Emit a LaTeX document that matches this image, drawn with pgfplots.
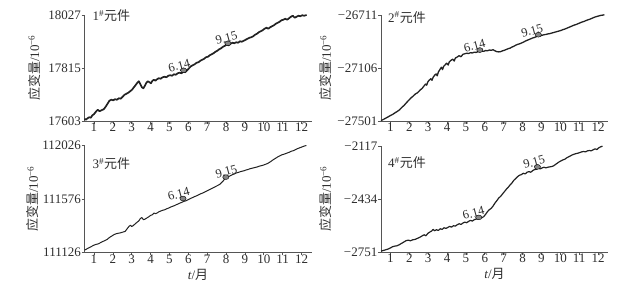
\documentclass[border=0pt]{standalone}
\usepackage{fontspec}
\setmainfont{Liberation Serif}
\newfontfamily\cjk{Noto Sans CJK SC}
\usepackage{pgfplots}
\pgfplotsset{compat=1.18}
\definecolor{txt}{HTML}{2E2E2E}
\definecolor{ln}{HTML}{222222}
\definecolor{mk}{HTML}{858585}
\definecolor{ax}{HTML}{555555}
\pgfplotsset{
  panel/.style={
    scale only axis, width=227pt, height=106pt,
    anchor=south west,
    axis x line=bottom, axis y line=left,
    axis line style={-, draw=ax, line width=0.6pt},
    xmin=0.5, xmax=12.53,
    scaled y ticks=false,
    xtick=\empty,
    minor xtick={1.5,2.5,...,11.5},
    minor tick length=2.5pt,
    major tick length=3pt,
    tick align=outside,
    minor tick style={draw=ax, line width=0.5pt, yshift=2.5pt},
    major tick style={draw=ax, line width=0.6pt},
    extra x ticks={1,2,3,4,5,6,7,8,9,10,11,12},
    extra x tick labels={1,2,3,4,5,6,7,8,9,10,11,12},
    extra x tick style={tick style={draw=none}},
    tick label style={font=\fontsize{13}{15}\selectfont, text=txt},
    xticklabel style={inner sep=0pt, yshift=1pt},
    yticklabel style={inner sep=0.5pt},
    label style={font=\fontsize{13}{15}\selectfont, text=txt},
    ylabel={{\cjk 应变量}/10\textsuperscript{−6}},
    clip=false,
  },
  mlab/.style={only marks, mark=*, mark size=2.4pt,
    mark options={fill=mk, draw=none, xscale=1.3},
    every node near coord/.append style={anchor=south, rotate=15,
      font=\fontsize{12.5}{14}\selectfont, text=txt, inner sep=1pt}},
}
\newcommand{\ttl}[1]{\fontsize{13}{15}\selectfont\color{txt}#1\textsuperscript{\#}{\cjk 元件}}
\begin{document}
\begin{tikzpicture}
\useasboundingbox (0,0) rectangle (628pt,291pt);
% ---------- panel 1
\begin{axis}[panel, at={(84.5pt,170pt)},
  ymin=17603, ymax=18027, ytick={17603,17815,18027},
  yticklabels={17603,17815,18027},
  ylabel style={at={(rel axis cs:-0.222,0.5)}, anchor=center}]
\addplot[ln, line width=1.7pt, line join=round] coordinates {
(0.50,17612)(0.58,17608)(0.66,17614)(0.75,17618)(0.83,17616)(0.92,17626)(1.00,17630)(1.10,17640)(1.20,17648)(1.30,17642)(1.40,17646)(1.52,17650)
(1.62,17660)(1.72,17672)(1.82,17684)(1.92,17688)(2.02,17686)(2.12,17690)(2.22,17688)(2.32,17694)(2.42,17692)(2.52,17700)
(2.62,17708)(2.72,17712)(2.82,17716)(2.92,17722)(3.02,17728)(3.12,17738)(3.22,17748)(3.30,17756)(3.38,17762)(3.46,17750)
(3.54,17738)(3.62,17734)(3.70,17744)(3.78,17756)(3.86,17762)(3.94,17758)(4.02,17754)(4.10,17764)(4.18,17768)(4.26,17764)
(4.34,17770)(4.44,17774)(4.54,17772)(4.64,17778)(4.74,17780)(4.84,17778)(4.94,17784)(5.04,17786)(5.14,17784)(5.24,17790)
(5.34,17788)(5.44,17794)(5.54,17796)(5.64,17794)(5.74,17800)(5.84,17798)(5.94,17806)(6.04,17814)(6.14,17822)(6.24,17826)
(6.34,17830)(6.44,17836)(6.54,17838)(6.64,17844)(6.74,17848)(6.84,17852)(6.94,17858)(7.04,17860)(7.14,17866)(7.24,17870)
(7.34,17874)(7.44,17880)(7.54,17884)(7.64,17890)(7.74,17894)(7.84,17900)(7.94,17904)(8.04,17908)(8.14,17906)(8.24,17912)
(8.34,17916)(8.44,17914)(8.54,17918)(8.64,17916)(8.74,17922)(8.84,17920)(8.94,17924)(9.04,17928)(9.14,17932)(9.24,17936)
(9.34,17938)(9.44,17942)(9.54,17948)(9.64,17952)(9.74,17958)(9.84,17962)(9.94,17966)(10.04,17972)(10.14,17976)(10.24,17972)
(10.34,17978)(10.44,17982)(10.54,17986)(10.64,17992)(10.74,17996)(10.84,18000)(10.94,18006)(11.04,18008)(11.14,18012)(11.24,18008)
(11.34,18014)(11.44,18020)(11.54,18024)(11.64,18016)(11.74,18020)(11.84,18024)(11.94,18022)(12.04,18026)(12.14,18024)(12.27,18027)
};
\addplot[mlab, nodes near coords={6.14}, every node near coord/.append style={xshift=-3pt}] coordinates {(5.75,17806)};
\addplot[mlab, nodes near coords={9.15}, every node near coord/.append style={xshift=0pt}] coordinates {(8.10,17914)};
\node[anchor=west, inner sep=0pt] at (rel axis cs:0.035,0.99) {\ttl{1}};
\end{axis}
% ---------- panel 2
\begin{axis}[panel, at={(381pt,170pt)},
  ymin=-27501, ymax=-26711, ytick={-27501,-27106,-26711},
  yticklabels={−27501,−27106,−26711},
  ylabel style={at={(rel axis cs:-0.243,0.5)}, anchor=center}]
\addplot[ln, line width=1.3pt, line join=round] coordinates {
(0.50,-27498)(0.62,-27490)(0.75,-27480)(0.88,-27470)(1.00,-27460)(1.12,-27452)(1.24,-27440)(1.36,-27430)(1.48,-27418)(1.60,-27400)
(1.72,-27385)(1.84,-27366)(1.96,-27348)(2.08,-27330)(2.20,-27316)(2.32,-27300)(2.44,-27290)(2.56,-27272)(2.68,-27258)(2.78,-27240)
(2.86,-27226)(2.92,-27234)(2.98,-27210)(3.06,-27196)(3.14,-27186)(3.20,-27198)(3.26,-27176)(3.34,-27160)(3.42,-27150)(3.48,-27164)
(3.54,-27136)(3.62,-27118)(3.70,-27100)(3.76,-27118)(3.82,-27094)(3.90,-27082)(3.98,-27070)(4.06,-27084)(4.12,-27060)(4.20,-27050)
(4.30,-27040)(4.38,-27054)(4.44,-27032)(4.54,-27024)(4.64,-27014)(4.74,-27022)(4.84,-27004)(4.94,-27000)(5.04,-26996)(5.14,-26998)
(5.24,-26992)(5.34,-26994)(5.44,-26988)(5.54,-26990)(5.64,-26984)(5.74,-26986)(5.84,-26980)(5.94,-26982)(6.04,-26976)(6.14,-26978)
(6.24,-26972)(6.34,-26974)(6.44,-26970)(6.54,-26978)(6.64,-26984)(6.74,-26986)(6.84,-26984)(6.94,-26978)(7.04,-26974)(7.14,-26968)
(7.24,-26962)(7.34,-26958)(7.44,-26950)(7.54,-26944)(7.64,-26936)(7.74,-26930)(7.84,-26926)(7.94,-26920)(8.04,-26914)(8.14,-26906)
(8.24,-26900)(8.34,-26894)(8.44,-26888)(8.54,-26882)(8.64,-26878)(8.74,-26872)(8.84,-26868)(8.94,-26866)(9.04,-26862)(9.14,-26858)
(9.24,-26856)(9.34,-26852)(9.44,-26850)(9.54,-26846)(9.64,-26842)(9.74,-26838)(9.84,-26834)(9.94,-26830)(10.04,-26826)(10.14,-26820)
(10.24,-26816)(10.34,-26810)(10.44,-26804)(10.54,-26798)(10.64,-26792)(10.74,-26786)(10.84,-26782)(10.94,-26776)(11.04,-26770)(11.14,-26764)
(11.24,-26760)(11.34,-26754)(11.44,-26748)(11.54,-26744)(11.64,-26738)(11.74,-26732)(11.84,-26726)(11.94,-26722)(12.04,-26718)(12.14,-26714)
(12.24,-26712)(12.34,-26709)
};
\addplot[mlab, nodes near coords={6.14}, every node near coord/.append style={xshift=-4pt}] coordinates {(5.74,-26972)};
\addplot[mlab, nodes near coords={9.15}, every node near coord/.append style={xshift=-5pt}] coordinates {(8.84,-26858)};
\node[anchor=west, inner sep=0pt] at (rel axis cs:0.031,0.98) {\ttl{2}};
\end{axis}
% ---------- panel 3
\begin{axis}[panel, at={(84.5pt,38.5pt)}, height=107pt,
  ymin=111126, ymax=112026, ytick={111126,111576,112026},
  yticklabels={111126,111576,112026},
  ylabel style={at={(rel axis cs:-0.227,0.5)}, anchor=center},
  xlabel={\textit{t}/{\cjk 月}},
  xlabel style={at={(rel axis cs:0.5,-0.205)}, anchor=center}]
\addplot[ln, line width=1.0pt, line join=round] coordinates {
(0.50,111146)(0.62,111156)(0.74,111166)(0.86,111176)(0.98,111186)(1.10,111194)(1.22,111198)(1.34,111208)(1.46,111218)(1.58,111226)
(1.70,111236)(1.82,111252)(1.94,111264)(2.06,111276)(2.18,111284)(2.30,111288)(2.42,111292)(2.54,111298)(2.66,111304)(2.76,111326)
(2.86,111346)(2.94,111356)(3.00,111344)(3.08,111352)(3.18,111366)(3.28,111380)(3.38,111392)(3.46,111412)(3.54,111420)(3.62,111402)
(3.70,111406)(3.80,111416)(3.90,111426)(4.00,111438)(4.10,111444)(4.18,111458)(4.26,111452)(4.36,111460)(4.46,111470)(4.56,111476)
(4.66,111482)(4.76,111486)(4.86,111494)(4.96,111500)(5.06,111508)(5.16,111514)(5.26,111520)(5.36,111528)(5.46,111534)(5.56,111542)
(5.66,111548)(5.76,111556)(5.86,111560)(5.96,111568)(6.06,111576)(6.16,111584)(6.26,111590)(6.36,111598)(6.46,111604)(6.56,111612)
(6.66,111620)(6.76,111626)(6.86,111634)(6.96,111642)(7.06,111650)(7.16,111658)(7.26,111666)(7.36,111674)(7.46,111682)(7.56,111690)
(7.66,111698)(7.76,111714)(7.86,111730)(7.96,111750)(8.06,111760)(8.16,111766)(8.26,111774)(8.36,111782)(8.46,111788)(8.56,111796)
(8.66,111800)(8.76,111806)(8.86,111810)(8.96,111814)(9.06,111820)(9.16,111824)(9.26,111830)(9.36,111834)(9.46,111838)(9.56,111842)
(9.66,111846)(9.76,111852)(9.86,111856)(9.96,111860)(10.06,111866)(10.16,111872)(10.26,111880)(10.36,111890)(10.46,111902)(10.56,111912)
(10.66,111922)(10.76,111932)(10.86,111940)(10.96,111948)(11.06,111952)(11.16,111958)(11.26,111964)(11.36,111970)(11.46,111978)(11.56,111982)
(11.66,111990)(11.76,111998)(11.86,112004)(11.96,112010)(12.06,112016)(12.16,112022)(12.26,112026)
};
\addplot[mlab, nodes near coords={6.14}, every node near coord/.append style={xshift=-3pt}] coordinates {(5.72,111580)};
\addplot[mlab, nodes near coords={9.15}, every node near coord/.append style={xshift=2pt}] coordinates {(7.99,111760)};
\node[anchor=west, inner sep=0pt] at (rel axis cs:0.035,0.83) {\ttl{3}};
\end{axis}
% ---------- panel 4
\begin{axis}[panel, at={(381pt,39pt)},
  ymin=-2751, ymax=-2117, ytick={-2751,-2434,-2117},
  yticklabels={−2751,−2434,−2117},
  ylabel style={at={(rel axis cs:-0.243,0.5)}, anchor=center},
  xlabel={\textit{t}/{\cjk 月}},
  xlabel style={at={(rel axis cs:0.5,-0.21)}, anchor=center}]
\addplot[ln, line width=1.2pt, line join=round] coordinates {
(0.50,-2746)(0.62,-2742)(0.74,-2738)(0.86,-2734)(0.98,-2728)(1.10,-2720)(1.22,-2716)(1.34,-2714)(1.46,-2708)(1.58,-2700)
(1.70,-2692)(1.82,-2684)(1.94,-2680)(2.06,-2684)(2.18,-2678)(2.30,-2676)(2.42,-2670)(2.54,-2664)(2.66,-2656)(2.78,-2648)
(2.88,-2654)(2.98,-2640)(3.08,-2632)(3.18,-2626)(3.26,-2616)(3.34,-2624)(3.44,-2618)(3.54,-2622)(3.64,-2612)(3.74,-2616)
(3.84,-2606)(3.94,-2610)(4.04,-2604)(4.14,-2598)(4.24,-2602)(4.34,-2594)(4.44,-2596)(4.54,-2588)(4.64,-2582)(4.74,-2586)
(4.84,-2578)(4.94,-2572)(5.04,-2576)(5.14,-2568)(5.24,-2562)(5.34,-2566)(5.44,-2558)(5.54,-2554)(5.64,-2552)(5.74,-2548)
(5.84,-2546)(5.94,-2540)(6.04,-2526)(6.14,-2510)(6.24,-2498)(6.34,-2490)(6.44,-2476)(6.54,-2458)(6.64,-2444)(6.74,-2428)
(6.84,-2418)(6.94,-2404)(7.04,-2390)(7.14,-2376)(7.24,-2364)(7.34,-2350)(7.44,-2338)(7.54,-2322)(7.64,-2312)(7.74,-2300)
(7.84,-2292)(7.94,-2288)(8.04,-2280)(8.14,-2284)(8.24,-2274)(8.34,-2270)(8.44,-2274)(8.54,-2264)(8.64,-2258)(8.74,-2256)
(8.84,-2250)(8.94,-2254)(9.04,-2248)(9.14,-2244)(9.24,-2248)(9.34,-2244)(9.44,-2242)(9.54,-2240)(9.64,-2236)(9.74,-2228)
(9.84,-2220)(9.94,-2212)(10.04,-2206)(10.14,-2200)(10.24,-2196)(10.34,-2188)(10.44,-2182)(10.54,-2176)(10.64,-2170)(10.74,-2166)
(10.84,-2162)(10.94,-2160)(11.04,-2156)(11.14,-2152)(11.24,-2150)(11.34,-2152)(11.44,-2146)(11.54,-2144)(11.64,-2146)(11.74,-2140)
(11.84,-2134)(11.94,-2138)(12.04,-2128)(12.14,-2122)(12.24,-2118)
};
\addplot[mlab, nodes near coords={6.14}, every node near coord/.append style={xshift=-4pt}] coordinates {(5.68,-2544)};
\addplot[mlab, nodes near coords={9.15}, every node near coord/.append style={xshift=-2pt}] coordinates {(8.79,-2242)};
\node[anchor=west, inner sep=0pt] at (rel axis cs:0.031,0.84) {\ttl{4}};
\end{axis}
\end{tikzpicture}
\end{document}
